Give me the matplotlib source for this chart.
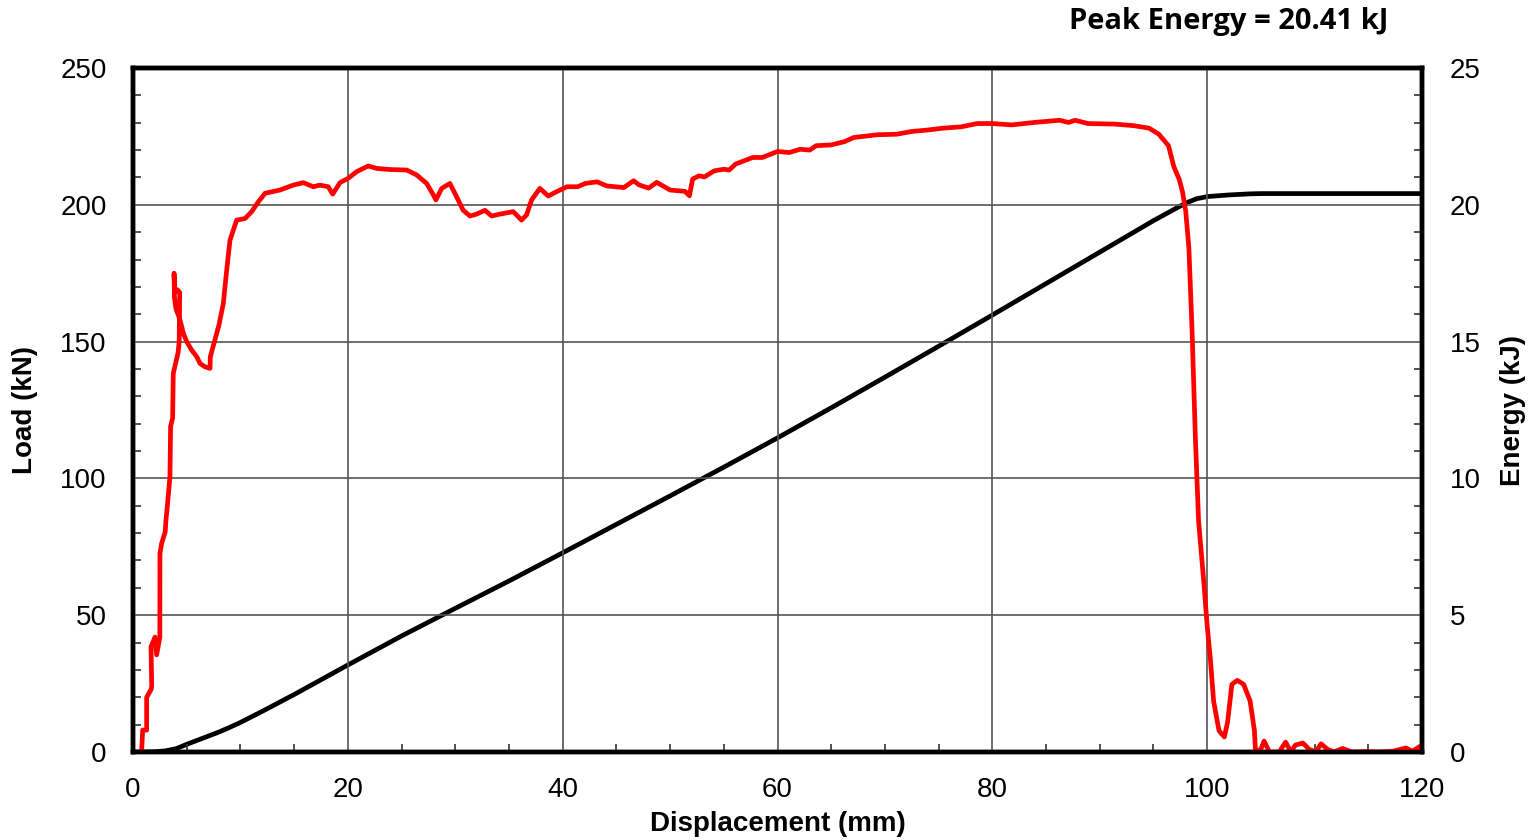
import matplotlib
matplotlib.use("Agg")
from matplotlib import pyplot as plt
from matplotlib.ticker import MultipleLocator

# load-displacement trace
disp = [0.8, 0.85, 0.9, 1.27, 1.27, 1.7, 1.74, 1.68, 2.05, 2.2, 2.5, 2.51, 2.67, 3.0,
        3.07, 3.2, 3.44, 3.5, 3.69, 3.75, 4.2, 4.3, 4.35, 4.1, 3.9, 3.82, 3.86, 4.0,
        4.37, 4.69, 5.0, 5.46, 5.93, 6.24, 6.7, 7.17, 7.2, 7.63, 8.0, 8.41, 8.72, 9.03,
        9.65, 10.43, 11.05, 11.67, 12.29, 13.68, 14.92, 15.86, 16.78, 17.4, 18.18,
        18.59, 19.27, 20.04, 20.82, 21.44, 21.9, 22.68, 23.92, 25.48, 26.41, 27.34,
        27.96, 28.2, 28.74, 29.5, 30.13, 30.74, 31.37, 31.99, 32.77, 33.39, 34.16,
        35.4, 36.17, 36.64, 37.11, 37.88, 38.66, 39.44, 40.4, 41.4, 42.1, 43.2, 44.1,
        45.7, 46.6, 47.1, 48.0, 48.75, 50.0, 51.4, 51.8, 52.1, 52.7, 53.2, 54.1, 55.0,
        55.5, 56.1, 57.7, 58.6, 60.0, 61.1, 62.1, 63.0, 63.6, 65.0, 66.25, 67.1, 69.3,
        71.1, 72.5, 73.9, 75.4, 77.1, 78.6, 80.0, 81.8, 83.9, 86.25, 87.1, 87.7, 88.9,
        91.4, 93.2, 94.6, 95.5, 96.4, 96.9, 97.4, 97.7, 98.0, 98.3, 98.6, 98.9, 99.2,
        99.7, 100.0, 100.3, 100.6, 101.1, 101.6, 101.9, 102.3, 102.8, 103.4, 104.0,
        104.4, 104.5, 105.0, 105.3, 105.8, 106.7, 107.3, 107.8, 108.2, 108.9, 109.5,
        110.1, 110.6, 111.2, 111.8, 112.6, 113.5, 114.8, 116.0, 117.3, 118.5, 119.1,
        120.0]
load = [0.0, 4.0, 8.0, 8.0, 20.0, 23.0, 24.0, 38.5, 42.0, 35.5, 42.0, 72.6, 76.3, 80.5,
        84.8, 90.0, 100.6, 119.0, 122.0, 138.4, 146.0, 150.0, 168.0, 169.0, 168.0,
        175.0, 166.0, 162.0, 158.0, 153.0, 150.0, 146.9, 144.5, 142.0, 140.8, 140.2,
        144.5, 150.6, 156.0, 164.0, 176.0, 187.1, 194.4, 195.0, 197.5, 201.1, 204.2,
        205.4, 207.2, 208.1, 206.6, 207.2, 206.6, 203.9, 208.1, 209.7, 212.1, 213.3,
        214.2, 213.3, 212.9, 212.7, 210.9, 207.8, 203.6, 201.8, 206.0, 207.8, 202.9,
        198.0, 195.9, 196.6, 198.0, 195.9, 196.6, 197.5, 194.4, 196.3, 201.8, 206.0,
        203.2, 204.8, 206.6, 206.6, 207.8, 208.4, 206.9, 206.3, 208.8, 207.3, 206.1,
        208.2, 205.4, 204.9, 203.3, 209.4, 210.6, 210.2, 212.4, 213.0, 212.7, 214.9,
        217.3, 217.3, 219.5, 219.1, 220.3, 220.0, 221.6, 221.9, 223.1, 224.6, 225.6,
        225.8, 226.8, 227.3, 228.0, 228.5, 229.7, 229.7, 229.2, 230.1, 230.9, 230.1,
        230.9, 229.7, 229.5, 228.9, 228.0, 225.8, 221.6, 213.9, 209.3, 204.8, 197.9,
        184.1, 153.4, 115.1, 84.5, 61.5, 46.2, 33.9, 18.6, 7.8, 5.5, 10.9, 24.7, 26.2,
        24.7, 18.6, 7.8, 0.2, 1.0, 4.0, 0.0, 0.0, 3.6, 0.0, 2.5, 3.3, 1.0, 0.0, 3.0,
        1.0, 0.0, 1.3, 0.0, 0.2, 0.0, 0.3, 1.5, 0.3, 2.5]

# absorbed energy
e_disp = [0, 1, 2, 3, 4, 5, 6, 7, 8, 9, 10, 12, 15, 20, 25, 30, 35, 40, 45, 50, 55, 60,
          65, 70, 75, 80, 85, 90, 95, 97, 98, 99, 100, 102, 104, 105, 120]
energy = [0, 0, 0.01, 0.04, 0.12, 0.28, 0.43, 0.58, 0.73, 0.9, 1.08, 1.48, 2.1, 3.18,
          4.24, 5.25, 6.25, 7.28, 8.32, 9.36, 10.41, 11.48, 12.58, 13.7, 14.83, 15.97,
          17.12, 18.27, 19.42, 19.85, 20.06, 20.22, 20.3, 20.36, 20.4, 20.41, 20.41]

plt.rcParams['font.family'] = ['Liberation Sans', 'DejaVu Sans']

fig = plt.figure(figsize=(15.33, 8.4), dpi=100)
ax = fig.add_axes([133/1533, 1 - 752/840, (1422-133)/1533, (752-68)/840])
ax2 = ax.twinx()

ax2.plot(e_disp, energy, color='black', lw=3.4, solid_capstyle='round')
ax.plot(disp, load, color='#ff0000', lw=3.4, solid_joinstyle='round')
ax.set_zorder(ax2.get_zorder() + 1)
ax.patch.set_visible(False)

ax.set_xlim(0, 120)
ax.set_ylim(0, 250)
ax2.set_ylim(0, 25)

ax.xaxis.set_major_locator(MultipleLocator(20))
ax.xaxis.set_minor_locator(MultipleLocator(5))
ax.yaxis.set_major_locator(MultipleLocator(50))
ax.yaxis.set_minor_locator(MultipleLocator(10))
ax2.yaxis.set_major_locator(MultipleLocator(5))
ax2.yaxis.set_minor_locator(MultipleLocator(1))

ax.grid(True, which='major', color='#555555', lw=1.2)
ax.tick_params(which='both', direction='in', labelsize=20, width=1.2, color='#333333')
ax.tick_params(which='major', length=0)
ax.tick_params(which='minor', length=6)
ax.tick_params(axis='y', pad=19)
ax.tick_params(axis='x', pad=18)
ax2.tick_params(which='both', direction='in', labelsize=20, width=1.2, color='#333333')
ax2.tick_params(which='major', length=0, pad=20)
ax2.tick_params(which='minor', length=6)

for a in (ax, ax2):
    for s in a.spines.values():
        s.set_linewidth(3.2)
        s.set_color('black')

ax.set_xlabel('Displacement (mm)', fontsize=20, fontweight='bold', labelpad=6)
ax.set_ylabel('Load (kN)', fontsize=20, fontweight='bold', labelpad=16)
ax2.set_ylabel('Energy (kJ)', fontsize=20, fontweight='bold', labelpad=14)

fig.text(1388/1533, 1 - 21/840, 'Peak Energy = 20.41 kJ', ha='right', va='center',
         fontsize=21, fontweight='bold', family=['Open Sans', 'DejaVu Sans'])

fig.savefig('out.png', dpi=100)
